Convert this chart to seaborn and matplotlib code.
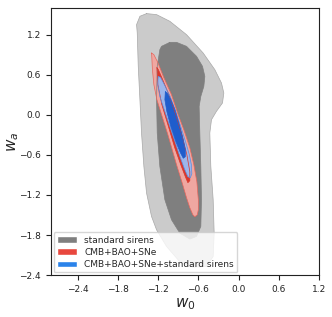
import numpy as np
import pandas as pd
import matplotlib
matplotlib.use("Agg")
import matplotlib.pyplot as plt
from matplotlib.patches import Patch
import seaborn as sns

# ---- contour outlines (w0, wa) ----
ss95_w0 = [-1.372, -1.471, -1.521, -1.511, -1.496, -1.471, -1.447, -1.412, -1.372, -1.298,
           -1.223, -1.074, -0.876, -0.677, -0.478, -0.379, -0.364, -0.379, -0.414, -0.429,
           -0.404, -0.330, -0.240, -0.220, -0.255, -0.354, -0.528, -0.776, -1.025, -1.223]
ss95_wa = [1.515, 1.475, 1.350, 1.225, 0.726, 0.226, -0.273, -0.772, -1.171, -1.521,
           -1.721, -1.970, -2.200, -2.280, -2.270, -2.120, -1.770, -1.270, -0.770, -0.273,
           -0.073, 0.052, 0.177, 0.326, 0.476, 0.676, 0.925, 1.200, 1.400, 1.500]

ss68_w0 = [-1.025, -1.149, -1.174, -1.213, -1.223, -1.213, -1.174, -1.099, -1.000, -0.876,
           -0.727, -0.627, -0.563, -0.553, -0.563, -0.578, -0.588, -0.563, -0.518, -0.503,
           -0.538, -0.627, -0.776, -0.925]
ss68_wa = [1.085, 1.025, 0.975, 0.726, 0.226, -0.273, -0.772, -1.271, -1.571, -1.771,
           -1.860, -1.820, -1.671, -1.271, -0.772, -0.273, 0.127, 0.276, 0.426, 0.576,
           0.726, 0.876, 1.025, 1.085]

cbs95_w0 = [-1.297, -1.285, -1.263, -1.218, -1.148, -1.054, -0.925, -0.846, -0.776, -0.727,
            -0.682, -0.652, -0.615, -0.600, -0.600, -0.622, -0.667, -0.727, -0.816, -0.901,
            -1.000, -1.114, -1.203, -1.263]
cbs95_wa = [0.926, 0.676, 0.451, 0.227, 0.002, -0.298, -0.747, -1.002, -1.241, -1.391,
            -1.496, -1.526, -1.496, -1.421, -1.271, -1.002, -0.747, -0.492, -0.223, 0.002,
            0.301, 0.556, 0.781, 0.900]

cbs68_w0 = [-1.218, -1.203, -1.144, -1.054, -0.952, -0.862, -0.794, -0.756, -0.727, -0.727,
            -0.771, -0.846, -0.935, -1.039, -1.144, -1.196]
cbs68_wa = [0.706, 0.451, 0.152, -0.148, -0.492, -0.747, -0.926, -1.016, -0.986, -0.851,
            -0.597, -0.298, 0.002, 0.301, 0.556, 0.676]

all95_w0 = [-1.199, -1.206, -1.174, -1.098, -1.024, -0.948, -0.874, -0.808, -0.756, -0.719,
            -0.697, -0.704, -0.734, -0.786, -0.861, -0.935, -1.024, -1.114, -1.166]
all95_wa = [0.571, 0.451, 0.271, 0.047, -0.178, -0.403, -0.627, -0.807, -0.927, -0.942,
            -0.882, -0.747, -0.597, -0.418, -0.178, 0.047, 0.286, 0.466, 0.564]

all68_w0 = [-1.092, -1.099, -1.069, -1.010, -0.935, -0.868, -0.824, -0.794, -0.794, -0.831,
            -0.891, -0.949, -1.010, -1.062]
all68_wa = [0.346, 0.227, 0.047, -0.178, -0.403, -0.567, -0.650, -0.627, -0.522, -0.343,
            -0.118, 0.077, 0.227, 0.324]

labels = ["standard sirens", "CMB+BAO+SNe", "CMB+BAO+SNe+standard sirens"]
ticks = [-2.4, -1.8, -1.2, -0.6, 0.0, 0.6, 1.2]

sns.set_style("ticks")
plt.rcParams["font.family"] = ["DejaVu Sans"]

fig = plt.figure(figsize=(3.32, 3.17), dpi=100)
ax = fig.add_axes([0.153, 0.132, 0.808, 0.843])

layers = [
    (ss95_w0, ss95_wa, "#cbcbcb", "#a8a8a8"),
    (ss68_w0, ss68_wa, "#7f7f7f", "#7f7f7f"),
    (cbs95_w0, cbs95_wa, "#efa7a1", "#e8675d"),
    (cbs68_w0, cbs68_wa, "#d9372c", "#d9372c"),
    (all95_w0, all95_wa, "#9db6ea", "#5a90e2"),
    (all68_w0, all68_wa, "#1f5dcc", "#1f5dcc"),
]
for w0, wa, fc, ec in layers:
    ax.fill(w0, wa, facecolor=fc, edgecolor="none", zorder=2)
    df = pd.DataFrame({"w0": list(w0) + [w0[0]], "wa": list(wa) + [wa[0]]})
    sns.lineplot(data=df, x="w0", y="wa", sort=False, estimator=None,
                 color=ec, lw=0.5, ax=ax, legend=False, zorder=3)

ax.set_xlim(-2.8, 1.2)
ax.set_ylim(-2.4, 1.6)
ax.set_xticks(ticks)
ax.set_yticks(ticks)
ax.tick_params(labelsize=6.5, length=3.5, width=0.8, colors="#222222")
for s in ax.spines.values():
    s.set_linewidth(0.8)
    s.set_color("#222222")
ax.set_xlabel(r"$w_0$", fontsize=11, labelpad=2)
ax.set_ylabel(r"$w_a$", fontsize=11, labelpad=-1)

handles = [Patch(facecolor="#7f7f7f"), Patch(facecolor="#e8473e"), Patch(facecolor="#2b83ea")]
ax.legend(handles, labels, loc="lower left", fontsize=6.5, handlelength=2.2,
          handleheight=0.7, frameon=True, framealpha=0.8, borderpad=0.4,
          labelspacing=0.35, handletextpad=0.8, borderaxespad=0.3)

fig.savefig("out.png", dpi=100)
